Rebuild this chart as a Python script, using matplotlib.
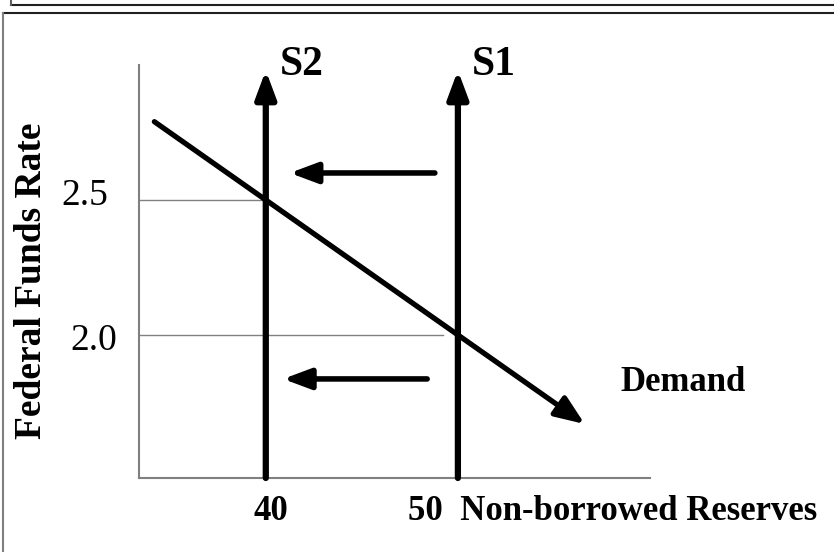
import matplotlib
matplotlib.use('Agg')
import matplotlib.pyplot as plt
from matplotlib.lines import Line2D

# data
reserves = [40, 50]            # S2, S1 (non-borrowed reserves)
supply_labels = ['S2', 'S1']
rates = [2.5, 2.0]             # equilibrium federal funds rates
rate_labels = ['2.5', '2.0']
demand_x = [34.2, 56.6]
demand_y = [2.79, 1.67]
shift_from = [48.8, 48.4]      # leftward shift arrows
shift_to = [41.25, 40.9]
shift_y = [2.60, 1.837]

serif = ['Liberation Serif', 'DejaVu Serif']
W, H = 834, 552

fig = plt.figure(figsize=(W / 100, H / 100), dpi=100)
fig.patch.set_facecolor('white')
ax = fig.add_axes([139 / W, 1 - 478 / H, 511 / W, 413 / H])
ax.set_xlim(33.4, 60)
ax.set_ylim(1.47, 3.0)
for s in ['top', 'right']:
    ax.spines[s].set_visible(False)
for s in ['left', 'bottom']:
    ax.spines[s].set_color('#808080')
    ax.spines[s].set_linewidth(1.5)
ax.set_xticks([])
ax.set_yticks([])

x0, y0 = ax.get_xlim()[0], ax.get_ylim()[0]
head = '-|>,head_length=0.75,head_width=0.28'

# guide lines
ax.plot([x0, reserves[0]], [rates[0], rates[0]], color='#808080', lw=1)
ax.plot([x0, reserves[1] - 0.8], [rates[1], rates[1]], color='#808080', lw=1)

# supply lines with arrow heads
for r, lab in zip(reserves, supply_labels):
    ax.annotate('', xy=(r, 2.98), xytext=(r, y0),
                arrowprops=dict(arrowstyle=head, lw=4.5, color='black',
                                shrinkA=0, shrinkB=0, mutation_scale=22))
    ax.text(r + 0.73, 2.963, lab, fontsize=30, fontweight='bold', family=serif,
            ha='left', va='baseline')

# demand line
ax.annotate('', xy=(demand_x[1], demand_y[1]), xytext=(demand_x[0], demand_y[0]),
            arrowprops=dict(arrowstyle='-|>,head_length=0.8,head_width=0.32',
                            lw=3.8, color='black', shrinkA=0, shrinkB=0,
                            mutation_scale=22))
ax.text(58.44, 1.793, 'Demand', fontsize=25, fontweight='bold', family=serif,
        ha='left', va='baseline', clip_on=False)

# shift arrows
for xf, xt, yy in zip(shift_from, shift_to, shift_y):
    ax.annotate('', xy=(xt, yy), xytext=(xf, yy),
                arrowprops=dict(arrowstyle=head, lw=4, color='black',
                                shrinkA=0, shrinkB=0, mutation_scale=22))

# y labels
offsets = [(-22, -3.6), (-16, -10.8)]
for r, lab, off in zip(rates, rate_labels, offsets):
    ax.annotate(lab, xy=(0, r), xycoords=('axes fraction', 'data'),
                xytext=off, textcoords='offset points', ha='right', va='baseline',
                fontsize=27, family=serif, annotation_clip=False)

# x labels
ax.annotate('40', xy=(reserves[0], 0), xycoords=('data', 'axes fraction'),
            xytext=(4, -30), textcoords='offset points', ha='center', va='baseline',
            fontsize=25, fontweight='bold', family=serif, annotation_clip=False)
ax.annotate('50  Non-borrowed Reserves', xy=(reserves[1], 0),
            xycoords=('data', 'axes fraction'), xytext=(-36, -30),
            textcoords='offset points', ha='left', va='baseline',
            fontsize=25, fontweight='bold', family=serif, annotation_clip=False)

fig.text(32 / W, 1 - 281 / H, 'Federal Funds Rate', rotation=90, fontsize=27,
         fontweight='bold', family=serif, ha='center', va='center')

# frame lines from the slide
fig.add_artist(Line2D([11 / W, 1], [1 - 5 / H, 1 - 5 / H], color='#202020', lw=1.5,
                      transform=fig.transFigure))
fig.add_artist(Line2D([11 / W, 11 / W], [1, 1 - 5 / H], color='#606060', lw=1.5,
                      transform=fig.transFigure))
fig.add_artist(Line2D([3 / W, 1], [1 - 13 / H, 1 - 13 / H], color='#202020', lw=1.5,
                      transform=fig.transFigure))
fig.add_artist(Line2D([3 / W, 3 / W], [1 - 13 / H, 0], color='#808080', lw=1.5,
                      transform=fig.transFigure))

fig.savefig('out.png', dpi=100, facecolor='white')
